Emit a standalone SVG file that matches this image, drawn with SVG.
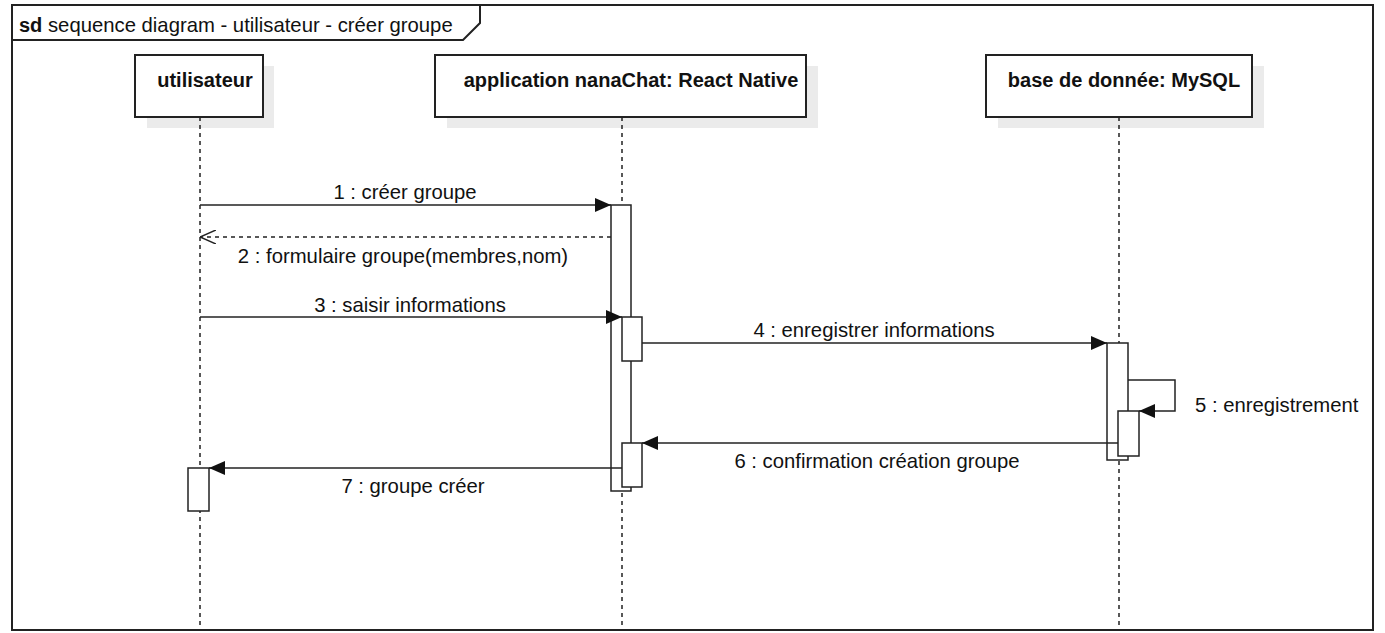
<svg xmlns="http://www.w3.org/2000/svg" width="1385" height="633" viewBox="0 0 1385 633">
<style>
  text { font-family: "Liberation Sans", Arial, sans-serif; font-size: 20.3px; fill: #111; }
  .bold { font-weight: bold; font-size: 20px; }
  .box { fill: #fff; stroke: #222; stroke-width: 2; }
  .shadow { fill: #ebebeb; stroke: none; }
  .life { stroke: #222; stroke-width: 1.5; stroke-dasharray: 4 4; fill: none; }
  .act { fill: #fff; stroke: #222; stroke-width: 1.5; }
  .msg { stroke: #222; stroke-width: 1.5; fill: none; }
  .ret { stroke: #222; stroke-width: 1.5; fill: none; stroke-dasharray: 4 4; }
</style>
<defs>
  <marker id="filled" markerWidth="16" markerHeight="14" refX="16" refY="7" orient="auto" markerUnits="userSpaceOnUse">
    <path d="M0,0 L16,7 L0,14 Z" fill="#111"/>
  </marker>
  <marker id="open" markerWidth="16" markerHeight="14" refX="16" refY="7" orient="auto" markerUnits="userSpaceOnUse">
    <path d="M0,0 L16,7 L0,14" fill="none" stroke="#222" stroke-width="1.5"/>
  </marker>
</defs>
<rect width="1385" height="633" fill="#fff"/>

<g id="frame">
  <rect x="12" y="5" width="1361" height="625" fill="none" stroke="#222" stroke-width="2"/>
  <path d="M12,40 L463,40 L480,23 L480,5" fill="none" stroke="#222" stroke-width="2"/>
  <text x="19" y="32"><tspan class="bold">sd</tspan> sequence diagram - utilisateur - créer groupe</text>
</g>

<g id="lifeline-utilisateur">
  <rect class="shadow" x="147" y="66" width="127" height="62"/>
  <rect class="box" x="135" y="55" width="128" height="62"/>
  <text class="bold" x="205" y="87" text-anchor="middle">utilisateur</text>
  <line class="life" x1="200" y1="117" x2="200" y2="630"/>
</g>

<g id="lifeline-app">
  <rect class="shadow" x="447" y="66" width="371" height="62"/>
  <rect class="box" x="435" y="55" width="371" height="62"/>
  <text class="bold" x="631" y="87" text-anchor="middle">application nanaChat: React Native</text>
  <line class="life" x1="622" y1="117" x2="622" y2="630"/>
</g>

<g id="lifeline-db">
  <rect class="shadow" x="998" y="66" width="266" height="62"/>
  <rect class="box" x="986" y="55" width="266" height="62"/>
  <text class="bold" x="1124" y="87" text-anchor="middle">base de donnée: MySQL</text>
  <line class="life" x1="1119" y1="117" x2="1119" y2="630"/>
</g>

<g id="activations">
  <rect class="act" x="611" y="205" width="20" height="286"/>
  <rect class="act" x="622" y="317" width="20" height="44"/>
  <rect class="act" x="622" y="443" width="20" height="44"/>
  <rect class="act" x="1107" y="343" width="21" height="117"/>
  <rect class="act" x="1118" y="411" width="21" height="45"/>
  <rect class="act" x="188" y="468" width="21" height="43"/>
</g>

<g id="connectors">
  <line class="msg" x1="200" y1="205" x2="611" y2="205" marker-end="url(#filled)"/>
  <text x="405" y="199" text-anchor="middle">1 : créer groupe</text>

  <line class="ret" x1="611" y1="237" x2="200" y2="237" marker-end="url(#open)"/>
  <text x="403" y="263" text-anchor="middle">2 : formulaire groupe(membres,nom)</text>

  <line class="msg" x1="200" y1="317" x2="622" y2="317" marker-end="url(#filled)"/>
  <text x="410" y="312" text-anchor="middle">3 : saisir informations</text>

  <line class="msg" x1="642" y1="343" x2="1107" y2="343" marker-end="url(#filled)"/>
  <text x="874" y="337" text-anchor="middle">4 : enregistrer informations</text>

  <path class="msg" d="M1128,380 L1175,380 L1175,411 L1139,411" marker-end="url(#filled)"/>
  <text x="1195" y="412">5 : enregistrement</text>

  <line class="msg" x1="1118" y1="443" x2="642" y2="443" marker-end="url(#filled)"/>
  <text x="877" y="468" text-anchor="middle">6 : confirmation création groupe</text>

  <line class="msg" x1="622" y1="468" x2="209" y2="468" marker-end="url(#filled)"/>
  <text x="413" y="493" text-anchor="middle">7 : groupe créer</text>
</g>
</svg>
